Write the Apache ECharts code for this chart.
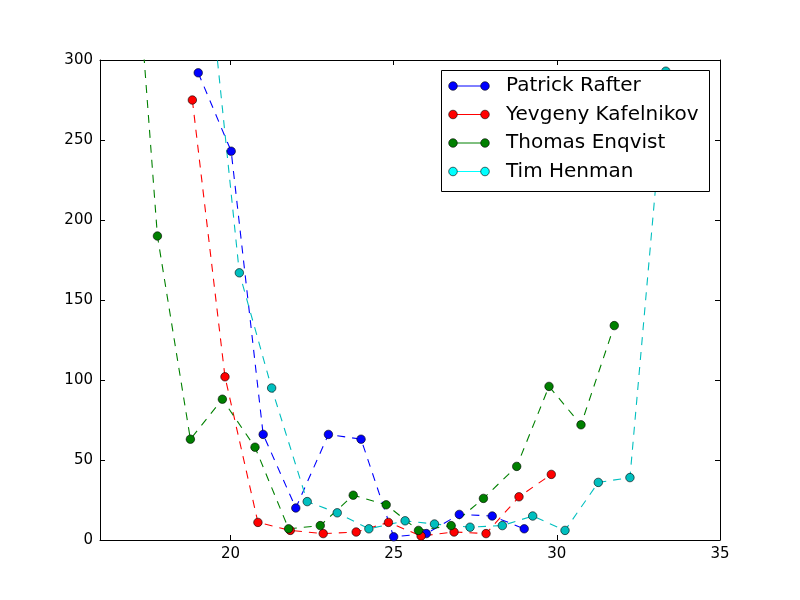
<!DOCTYPE html>
<html>
<head>
<meta charset="utf-8">
<title>Rankings by age</title>
<script src="https://cdn.jsdelivr.net/npm/echarts@6/dist/echarts.min.js"></script>
<style>
  html, body { margin: 0; padding: 0; background: #fff; }
  #main { width: 800px; height: 600px; }
</style>
</head>
<body>
<div id="main"></div>
<script>
// ages (x) and ranking (y)
var players = ['Patrick Rafter', 'Yevgeny Kafelnikov', 'Thomas Enqvist', 'Tim Henman'];

var rafterAge = [19.01, 20.02, 21.0, 22.0, 23.0, 24.0, 25.0, 26.0, 27.01, 28.02, 29.0];
var rafterRank = [292, 243, 66, 20, 66, 63, 2, 4, 16, 15, 7];

var kafelnikovAge = [18.83, 19.83, 20.84, 21.83, 22.84, 23.85, 24.84, 25.84, 26.85, 27.83, 28.84, 29.83];
var kafelnikovRank = [275, 102, 11, 6, 4, 5, 11, 2.5, 5, 4, 27, 41];

var enqvistAge = [16.76, 17.76, 18.77, 19.75, 20.75, 21.78, 22.75, 23.76, 24.77, 25.76, 26.76, 27.75, 28.77, 29.76, 30.74, 31.76];
var enqvistRank = [462, 190, 63, 88, 58, 7, 9, 28, 22, 6, 9, 26, 46, 96, 72, 134];

var henmanAge = [19.27, 20.27, 21.26, 22.35, 23.27, 24.24, 25.35, 26.25, 27.34, 28.33, 29.26, 30.25, 31.27, 32.24, 33.34];
var henmanRank = [365, 167, 95, 24, 17, 7, 12, 10, 8, 9, 15, 6, 36, 39, 293];

var lineColors = ['#0000ff', '#ff0000', '#008000', '#00bfbf'];
var legendColors = ['#0000ff', '#ff0000', '#008000', '#00ffff'];

var xTicks = [20, 25, 30, 35];

function pairs(xs, ys) {
    var out = [];
    for (var i = 0; i < xs.length; i++) out.push([xs[i], ys[i]]);
    return out;
}

var myChart = echarts.init(document.getElementById('main'));

var allData = [
    pairs(rafterAge, rafterRank),
    pairs(kafelnikovAge, kafelnikovRank),
    pairs(enqvistAge, enqvistRank),
    pairs(henmanAge, henmanRank)
];

var series = [];
for (var i = 0; i < players.length; i++) {
    series.push({
        name: players[i],
        type: 'line',
        data: allData[i],
        clip: true,
        symbol: 'circle',
        symbolSize: 8.5,
        showSymbol: true,
        animation: false,
        lineStyle: { color: lineColors[i], width: 1.1, type: [8, 7] },
        itemStyle: { color: lineColors[i], borderColor: '#000', borderWidth: 0.6 }
    });
}

// legend drawn by hand: matplotlib style box, line with a marker at each end
var legendGraphic = [{
    type: 'rect',
    shape: { x: 441.5, y: 70.5, width: 268, height: 121 },
    style: { fill: '#fff', stroke: '#000', lineWidth: 1 },
    z: 100
}];
var rowY = [86, 114.5, 143, 171.5];
for (var j = 0; j < players.length; j++) {
    legendGraphic.push({
        type: 'line',
        shape: { x1: 453, y1: rowY[j], x2: 485, y2: rowY[j] },
        style: { stroke: legendColors[j], lineWidth: 1 },
        z: 101
    });
    legendGraphic.push({
        type: 'circle',
        shape: { cx: 453, cy: rowY[j], r: 4.3 },
        style: { fill: legendColors[j], stroke: '#000', lineWidth: 0.6 },
        z: 102
    });
    legendGraphic.push({
        type: 'circle',
        shape: { cx: 485, cy: rowY[j], r: 4.3 },
        style: { fill: legendColors[j], stroke: '#000', lineWidth: 0.6 },
        z: 102
    });
    legendGraphic.push({
        type: 'text',
        x: 506,
        y: rowY[j],
        style: {
            text: players[j],
            fill: '#000',
            font: '20px "DejaVu Sans"',
            verticalAlign: 'middle',
            align: 'left'
        },
        z: 103
    });
}

var axisFont = { color: '#000', fontSize: 15, fontFamily: 'DejaVu Sans' };

var option = {
    backgroundColor: '#fff',
    animation: false,
    grid: { left: 100, right: 80, top: 60, bottom: 60 },
    xAxis: [{
        type: 'value',
        min: 16,
        max: 35,
        position: 'bottom',
        axisLine: { show: true, onZero: false, lineStyle: { color: '#000', width: 1 } },
        axisTick: { show: true, inside: true, length: 5, customValues: xTicks, lineStyle: { color: '#000' } },
        axisLabel: Object.assign({ margin: 7, customValues: xTicks }, axisFont),
        splitLine: { show: false }
    }, {
        type: 'value',
        min: 16,
        max: 35,
        position: 'top',
        axisLine: { show: true, onZero: false, lineStyle: { color: '#000', width: 1 } },
        axisTick: { show: true, inside: true, length: 5, customValues: xTicks, lineStyle: { color: '#000' } },
        axisLabel: { show: false },
        splitLine: { show: false }
    }],
    yAxis: [{
        type: 'value',
        min: 0,
        max: 300,
        interval: 50,
        position: 'left',
        axisLine: { show: true, onZero: false, lineStyle: { color: '#000', width: 1 } },
        axisTick: { show: true, inside: true, length: 5, lineStyle: { color: '#000' } },
        axisLabel: Object.assign({ margin: 7 }, axisFont),
        splitLine: { show: false }
    }, {
        type: 'value',
        min: 0,
        max: 300,
        interval: 50,
        position: 'right',
        axisLine: { show: true, onZero: false, lineStyle: { color: '#000', width: 1 } },
        axisTick: { show: true, inside: true, length: 5, lineStyle: { color: '#000' } },
        axisLabel: { show: false },
        splitLine: { show: false }
    }],
    graphic: legendGraphic,
    series: series
};
myChart.setOption(option);
</script>
</body>
</html>
